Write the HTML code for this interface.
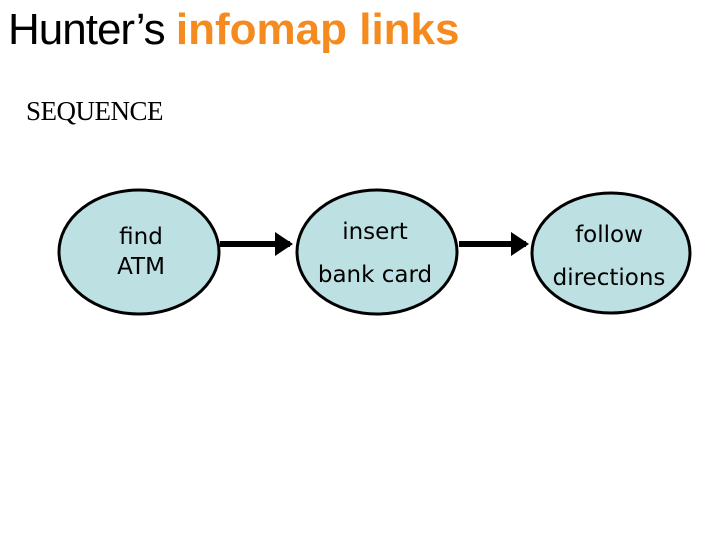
<!DOCTYPE html>
<html><head><meta charset="utf-8"><style>
body{margin:0;width:720px;height:540px;background:#fff;overflow:hidden;position:relative}
.t{position:absolute;white-space:nowrap}
</style></head><body>
<div class="t" style="left:8px;top:5px;font:44px 'Liberation Sans',sans-serif;letter-spacing:-1px">Hunter’s <span style="color:#f58a1f;font-weight:bold;letter-spacing:0px">infomap links</span></div>
<div class="t" style="left:26px;top:96px;font:27px 'Liberation Serif',serif;letter-spacing:-0.5px">SEQUENCE</div>
<svg width="720" height="540" style="position:absolute;left:0;top:0">
<defs><marker id="a" markerWidth="3" markerHeight="4" refX="2.5" refY="2" orient="auto"><path d="M0,0L3,2L0,4z" fill="#000"/></marker></defs>
<g fill="#bde0e3" stroke="#000" stroke-width="3">
<ellipse cx="139" cy="252" rx="80" ry="62"/>
<ellipse cx="377" cy="252" rx="80" ry="62"/>
<ellipse cx="611" cy="253" rx="79" ry="60"/>
</g>
<g stroke="#000" stroke-width="6" marker-end="url(#a)">
<line x1="220" y1="244" x2="290" y2="244"/>
<line x1="459" y1="244" x2="526" y2="244"/>
</g>
<g font-family="DejaVu Sans,sans-serif" font-size="23" text-anchor="middle">
<text x="141" y="244">find</text><text x="141" y="274">ATM</text>
<text x="375" y="239">insert</text><text x="375" y="282">bank card</text>
<text x="609" y="242">follow</text><text x="609" y="285">directions</text>
</g>
</svg>
</body></html>
